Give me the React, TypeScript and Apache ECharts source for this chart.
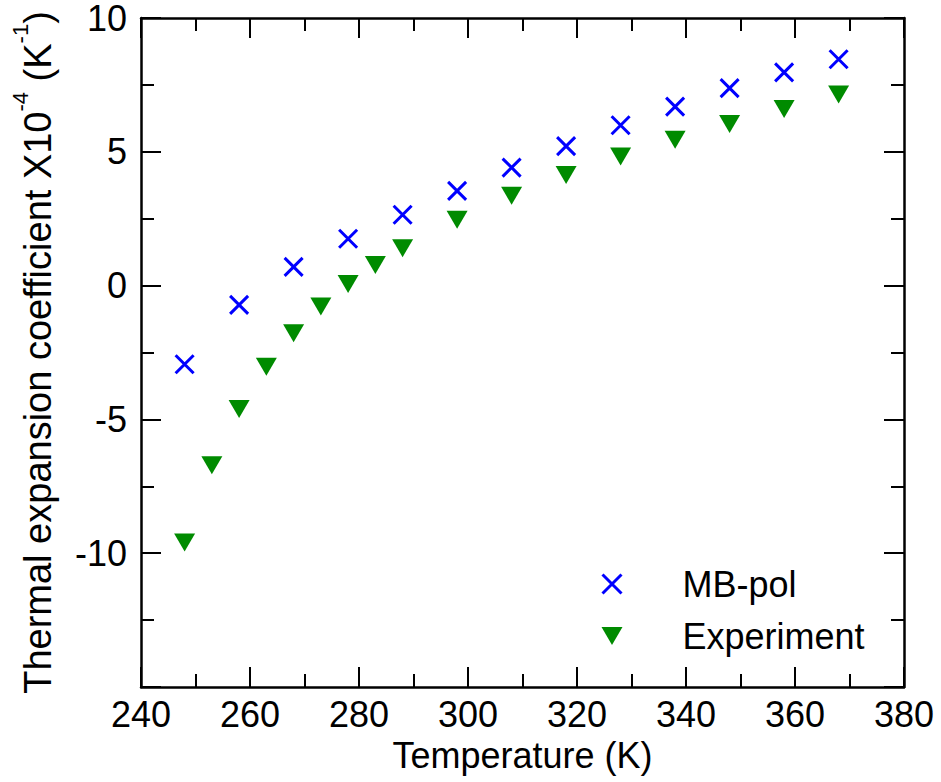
import React, { useEffect, useRef } from "react";
import * as echarts from "echarts";

// Temperatures (K) and thermal expansion coefficients (x10^-4 K^-1)
const mbpolTemps = [248, 258, 268, 278, 288, 298, 308, 318, 328, 338, 348, 358, 368];
const mbpolValues = [-2.94, -0.72, 0.7, 1.75, 2.65, 3.54, 4.41, 5.21, 5.99, 6.69, 7.38, 7.97, 8.46];

const experimentTemps = [248, 253, 258, 263, 268, 273, 278, 283, 288, 298, 308, 318, 328, 338, 348, 358, 368];
const experimentValues = [-9.6, -6.71, -4.61, -3.03, -1.78, -0.78, 0.06, 0.77, 1.4, 2.46, 3.36, 4.13, 4.82, 5.45, 6.04, 6.6, 7.14];

const xRange = { min: 240, max: 380, step: 20 };
const yRange = { min: -15, max: 10, step: 5 };

const FONT = "'Liberation Sans', Arial, Helvetica, sans-serif";
const BLUE = "#0000ff";
const GREEN = "#008b00";
const CROSS = "path://M0,0L20,20M20,0L0,20";
const DOWN_TRIANGLE = "path://M0,0L20,0L10,17Z";

const axisLine = { show: true, onZero: false, lineStyle: { color: "#000", width: 2.5 } };
const axisTick = { show: true, inside: true, length: 20, lineStyle: { color: "#000", width: 2 } };
const minorTick = { show: true, splitNumber: 2, length: 13, lineStyle: { color: "#000", width: 2 } };

export default function App() {
  const ref = useRef<HTMLDivElement>(null);

  useEffect(() => {
    if (!ref.current) return;
    const chart = echarts.init(ref.current, null, { renderer: "svg" });

    const xBase = {
      type: "value",
      min: xRange.min,
      max: xRange.max,
      interval: xRange.step,
      axisLine,
      axisTick,
      minorTick,
      splitLine: { show: false },
      minorSplitLine: { show: false },
    };
    const yBase = {
      type: "value",
      min: yRange.min,
      max: yRange.max,
      interval: yRange.step,
      axisLine,
      axisTick,
      minorTick,
      splitLine: { show: false },
      minorSplitLine: { show: false },
    };

    chart.setOption({
      animation: false,
      backgroundColor: "#fff",
      grid: { left: 141, right: 37, top: 12.5, bottom: 95 },
      legend: {
        orient: "vertical",
        left: 596,
        top: 561,
        itemWidth: 21,
        itemHeight: 19,
        itemGap: 16,
        selectedMode: false,
        textStyle: {
          fontSize: 36,
          lineHeight: 36,
          color: "#000",
          fontFamily: FONT,
          rich: { gap: { width: 55 } },
        },
        formatter: (name: string) => `{gap|}${name}`,
        data: [
          {
            name: "MB-pol",
            icon: CROSS,
            itemStyle: { color: BLUE, borderColor: BLUE, borderWidth: 3, opacity: 1 },
          },
          {
            name: "Experiment",
            icon: DOWN_TRIANGLE,
            itemStyle: { color: GREEN, borderWidth: 0, opacity: 1 },
          },
        ],
      },
      xAxis: [
        {
          ...xBase,
          position: "bottom",
          axisLabel: { show: true, fontSize: 36, color: "#000", fontFamily: FONT, margin: 9 },
          name: "Temperature (K)",
          nameLocation: "middle",
          nameGap: 50,
          nameTextStyle: { fontSize: 36, color: "#000", fontFamily: FONT },
        },
        { ...xBase, position: "top", axisLabel: { show: false } },
      ],
      yAxis: [
        {
          ...yBase,
          position: "left",
          axisLabel: {
            show: true,
            showMinLabel: false,
            fontSize: 36,
            lineHeight: 24,
            color: "#000",
            fontFamily: FONT,
            margin: 14,
          },
          name: "{m|Thermal expansion coefficient X10}{sup|-4}{m| (K}{sup|-1}{m|)}",
          nameLocation: "middle",
          nameRotate: 90,
          nameGap: 84,
          nameTextStyle: {
            fontSize: 38,
            color: "#000",
            fontFamily: FONT,
            rich: {
              m: { fontSize: 38, lineHeight: 48, verticalAlign: "bottom", fontFamily: FONT, color: "#000" },
              sup: { fontSize: 22, lineHeight: 22, verticalAlign: "top", fontFamily: FONT, color: "#000" },
            },
          },
        },
        { ...yBase, position: "right", axisLabel: { show: false } },
      ],
      series: [
        {
          type: "scatter",
          name: "MB-pol",
          xAxisIndex: 0,
          yAxisIndex: 0,
          symbol: CROSS,
          symbolSize: 18,
          itemStyle: { color: BLUE, borderColor: BLUE, borderWidth: 3, opacity: 1 },
          emphasis: { disabled: true },
          data: mbpolTemps.map((t, i) => [t, mbpolValues[i]]),
        },
        {
          type: "scatter",
          name: "Experiment",
          xAxisIndex: 0,
          yAxisIndex: 0,
          symbol: DOWN_TRIANGLE,
          symbolSize: [21, 18],
          itemStyle: { color: GREEN, opacity: 1 },
          emphasis: { disabled: true },
          data: experimentTemps.map((t, i) => [t, experimentValues[i]]),
        },
      ],
    });

    return () => chart.dispose();
  }, []);

  return (
    <div
      ref={ref}
      style={{ position: "absolute", left: 0, top: 0, width: 941, height: 782 }}
    />
  );
}
